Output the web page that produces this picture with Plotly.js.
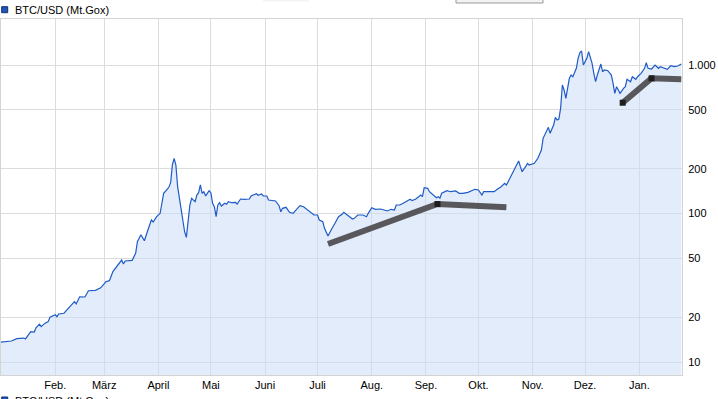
<!DOCTYPE html>
<html>
<head>
<meta charset="utf-8">
<script src="https://cdn.plot.ly/plotly-3.0.1.min.js"></script>
<style>
  html, body { margin: 0; padding: 0; background: #fff; }
  #chart { width: 718px; height: 399px; }
</style>
</head>
<body>
<div id="chart"></div>
<script>
// ---- data ----
const seriesName = 'BTC/USD (Mt.Gox)';

const priceDates = [
  '2013-01-01','2013-01-03','2013-01-07','2013-01-10','2013-01-14','2013-01-15','2013-01-18','2013-01-20','2013-01-21','2013-01-23',
  '2013-01-24','2013-01-26','2013-01-28','2013-01-29','2013-02-01','2013-02-02','2013-02-03','2013-02-06','2013-02-08','2013-02-10',
  '2013-02-12','2013-02-13','2013-02-15','2013-02-18','2013-02-20','2013-02-24','2013-02-27','2013-03-02','2013-03-04','2013-03-06',
  '2013-03-09','2013-03-11','2013-03-12','2013-03-13','2013-03-17','2013-03-19','2013-03-20','2013-03-22','2013-03-24','2013-03-25',
  '2013-03-26','2013-03-28','2013-03-29','2013-03-31','2013-04-02','2013-04-03','2013-04-04','2013-04-06','2013-04-07','2013-04-08',
  '2013-04-09','2013-04-10','2013-04-11','2013-04-12','2013-04-13','2013-04-14','2013-04-15','2013-04-16','2013-04-17','2013-04-18',
  '2013-04-19','2013-04-20','2013-04-22','2013-04-23','2013-04-24','2013-04-25','2013-04-26','2013-04-27','2013-04-28','2013-04-29',
  '2013-04-30','2013-05-01','2013-05-02','2013-05-03','2013-05-04','2013-05-05','2013-05-06','2013-05-07','2013-05-09','2013-05-10',
  '2013-05-11','2013-05-13','2013-05-15','2013-05-16','2013-05-18','2013-05-20','2013-05-23','2013-05-24','2013-05-27','2013-05-28',
  '2013-05-30','2013-05-31','2013-06-02','2013-06-03','2013-06-07','2013-06-09','2013-06-10','2013-06-11','2013-06-13','2013-06-15',
  '2013-06-17','2013-06-19','2013-06-21','2013-06-23','2013-06-25','2013-06-27','2013-06-29','2013-07-01','2013-07-02','2013-07-04',
  '2013-07-05','2013-07-07','2013-07-08','2013-07-09','2013-07-11','2013-07-13','2013-07-15','2013-07-16','2013-07-18','2013-07-20',
  '2013-07-21','2013-07-22','2013-07-24','2013-07-27','2013-07-29','2013-07-30','2013-08-01','2013-08-03','2013-08-06','2013-08-08',
  '2013-08-10','2013-08-12','2013-08-14','2013-08-15','2013-08-17','2013-08-19','2013-08-21','2013-08-23','2013-08-24','2013-08-26',
  '2013-08-29','2013-08-30','2013-08-31','2013-09-02','2013-09-03','2013-09-05','2013-09-07','2013-09-08','2013-09-09','2013-09-10',
  '2013-09-13','2013-09-15','2013-09-18','2013-09-20','2013-09-22','2013-09-25','2013-09-27','2013-09-29','2013-10-01','2013-10-03',
  '2013-10-04','2013-10-07','2013-10-10','2013-10-12','2013-10-14','2013-10-16','2013-10-17','2013-10-19','2013-10-21','2013-10-23',
  '2013-10-24','2013-10-25','2013-10-26','2013-10-28','2013-10-29','2013-10-30','2013-11-02','2013-11-04','2013-11-06','2013-11-07',
  '2013-11-09','2013-11-10','2013-11-11','2013-11-13','2013-11-14','2013-11-15','2013-11-16','2013-11-17','2013-11-18','2013-11-19',
  '2013-11-20','2013-11-21','2013-11-22','2013-11-23','2013-11-24','2013-11-26','2013-11-27','2013-11-28','2013-11-29','2013-11-30',
  '2013-12-02','2013-12-03','2013-12-04','2013-12-05','2013-12-06','2013-12-07','2013-12-08','2013-12-09','2013-12-10','2013-12-11',
  '2013-12-12','2013-12-14','2013-12-16','2013-12-17','2013-12-18','2013-12-19','2013-12-20','2013-12-21','2013-12-23','2013-12-24',
  '2013-12-25','2013-12-27','2013-12-28','2013-12-30','2013-12-31','2014-01-02','2014-01-04','2014-01-05','2014-01-06','2014-01-08',
  '2014-01-10','2014-01-12','2014-01-13','2014-01-15','2014-01-17','2014-01-19','2014-01-21','2014-01-23','2014-01-25'
];

const priceValues = [
  13.6,13.7,13.85,14.35,14.5,14.3,16.0,15.9,17.0,18.0,
  17.3,18.2,18.7,20.0,20.8,20.2,21.05,21.3,22.6,24.2,
  25.5,24.6,27.5,27.4,30.2,30.4,31.6,34.7,35.3,40.6,
  45.0,48.6,45.7,47.9,48.4,54.0,64.6,72.0,65.6,72.8,
  77.4,90.4,87.7,95.2,100.3,117.2,136.8,145.5,150.1,161.2,
  212.2,235.3,212,151.5,126.6,100.3,90.4,75.4,69.1,90.4,
  114.1,126.6,120.1,133.2,138.1,155.6,136.8,140.2,131.2,136.8,
  142.4,138.1,117.2,111.1,95.2,114.1,118.2,112.3,117.2,115.4,
  120.1,118.2,119,115.9,125.2,124.6,125.2,131.2,135.9,132.6,
  135.3,131.2,131.2,123.3,121.4,112.9,102.8,108.4,110.1,101.9,
  100.3,106.7,112.9,111.1,106.7,102.8,97.7,97.7,90.4,88.1,
  79.5,70.6,73.6,78.3,85.9,95.2,98.8,101.9,97.7,93.7,
  91.8,92.8,97.7,97.7,95.2,100.3,109.4,106.7,107.2,105.6,
  104,106.7,105.6,114.1,114.1,117.2,121.4,124.6,122,124.6,
  133.2,129.8,149.2,147.8,140.2,133.2,127.8,129.8,126.6,136.8,
  142.4,140.2,141.8,136.8,136.8,138.9,142.4,145.5,143.9,133.2,
  140.2,140.2,140.2,146.2,151.5,159.7,155.6,172.6,193.3,212.2,
  225.7,206.7,191.2,206.7,217.6,212.2,217.6,235.3,267.7,320.9,
  365,380.6,346.8,394.5,444.4,426.2,432.9,510.9,733.4,678.6,
  596.9,678.6,813.5,856.3,834,950,1109.5,1210,1242.6,1000,
  1109.5,1229.2,1137.3,1026.6,879.1,771.8,856.3,950,1015.5,901.3,
  925.3,915.4,856.3,753,644.8,714.5,678.6,644.8,696.9,714.5,
  801,771.8,834,801,834,879.1,950,1036.4,950,939.8,
  1000,950,974,950,935.4,989.2,974,984.7,1015.5
];

// dark grey overlay segments (null separates the two pieces)
const trendDates  = ['2013-07-07','2013-09-07 14:00','2013-10-17', null, '2013-12-22 12:00','2014-01-08','2014-01-25'];
const trendValues = [62.3, 115.9, 110.1, null, 557, 813.5, 801];
const trendMarkerIdx = [1, 4, 5];

const monthTicks  = ['2013-02-01','2013-03-01','2013-04-01','2013-05-01','2013-06-01','2013-07-01',
                     '2013-08-01','2013-09-01','2013-10-01','2013-11-01','2013-12-01','2014-01-01'];
const monthLabels = ['Feb.','März','April','Mai','Juni','Juli','Aug.','Sep.','Okt.','Nov.','Dez.','Jan.'];

const yTicks  = [10, 20, 50, 100, 200, 500, 1000];
const yLabels = ['10','20','50','100','200','500','1.000'];

// ---- chart ----
const FONT = 'Liberation Sans, Arial, sans-serif';
const PLOT_L = 1, PLOT_R = 682, PLOT_T = 19, PLOT_B = 375;
const px2x = p => (p - PLOT_L) / (PLOT_R - PLOT_L);
const px2y = p => (PLOT_B - p) / (PLOT_B - PLOT_T);

const traces = [
  {
    type: 'scatter', mode: 'lines', name: seriesName,
    x: priceDates, y: priceValues,
    line: { color: '#1f5bc6', width: 1.2 },
    fill: 'tozeroy', fillcolor: 'rgba(203,220,246,0.54)',
    hoverinfo: 'skip'
  },
  {
    type: 'scatter', mode: 'lines',
    x: trendDates, y: trendValues,
    line: { color: '#58585c', width: 6 },
    connectgaps: false, hoverinfo: 'skip'
  },
  {
    type: 'scatter', mode: 'markers',
    x: trendMarkerIdx.map(i => trendDates[i]),
    y: trendMarkerIdx.map(i => trendValues[i]),
    marker: { symbol: 'square', size: 6, color: '#1e1e1e', line: { width: 0 } },
    hoverinfo: 'skip'
  }
];

const layout = {
  width: 718, height: 399,
  margin: { l: PLOT_L, r: 718 - PLOT_R, t: PLOT_T, b: 399 - PLOT_B, pad: 0 },
  paper_bgcolor: '#ffffff', plot_bgcolor: '#ffffff',
  showlegend: false,
  font: { family: FONT, size: 11, color: '#000' },
  xaxis: {
    type: 'date',
    range: ['2013-01-01', '2014-01-25 10:00'],
    tickmode: 'array', tickvals: monthTicks, ticktext: monthLabels,
    ticks: '', showgrid: true, gridcolor: '#dcdcdc', gridwidth: 1,
    showline: true, linecolor: '#d4d4d4', linewidth: 1, mirror: true,
    zeroline: false, fixedrange: true,
    tickfont: { family: FONT, size: 11, color: '#000' }
  },
  yaxis: {
    type: 'log', side: 'right',
    range: [0.9125, 3.3098],
    tickmode: 'array', tickvals: yTicks, ticktext: yLabels,
    ticks: '', showgrid: true, gridcolor: '#dcdcdc', gridwidth: 1,
    showline: true, linecolor: '#d4d4d4', linewidth: 1, mirror: true,
    zeroline: false, fixedrange: true, ticklabelstandoff: 3,
    tickfont: { family: FONT, size: 11, color: '#000' }
  },
  shapes: [
    // legend swatch (top)
    { type: 'rect', xref: 'paper', yref: 'paper',
      x0: px2x(1.7), x1: px2x(7.7), y0: px2y(12.7), y1: px2y(6.7),
      fillcolor: '#1f56b8', line: { color: '#0d2f6e', width: 1 } },
    // cut-off button outline at the top
    { type: 'rect', xref: 'paper', yref: 'paper',
      x0: px2x(456), x1: px2x(543), y0: px2y(3), y1: px2y(-10),
      fillcolor: '#f2f2f2', line: { color: '#9a9a9a', width: 1 } },
    { type: 'rect', xref: 'paper', yref: 'paper',
      x0: px2x(263), x1: px2x(309), y0: px2y(1.5), y1: px2y(-10),
      fillcolor: '#f4f4f4', line: { width: 0 } },
    // legend swatch (bottom, cut off)
    { type: 'rect', xref: 'paper', yref: 'paper',
      x0: px2x(1.7), x1: px2x(7.7), y0: px2y(403), y1: px2y(397),
      fillcolor: '#1f56b8', line: { color: '#0d2f6e', width: 1 } }
  ],
  annotations: [
    { xref: 'paper', yref: 'paper', x: px2x(12.5), y: px2y(10), xanchor: 'left', yanchor: 'middle',
      text: seriesName, showarrow: false, font: { family: FONT, size: 11, color: '#000' } },
    { xref: 'paper', yref: 'paper', x: px2x(12.5), y: px2y(393), xanchor: 'left', yanchor: 'top',
      text: seriesName, showarrow: false, font: { family: FONT, size: 11, color: '#000' } }
  ]
};

Plotly.newPlot('chart', traces, layout, { staticPlot: true, displayModeBar: false });
</script>
</body>
</html>
